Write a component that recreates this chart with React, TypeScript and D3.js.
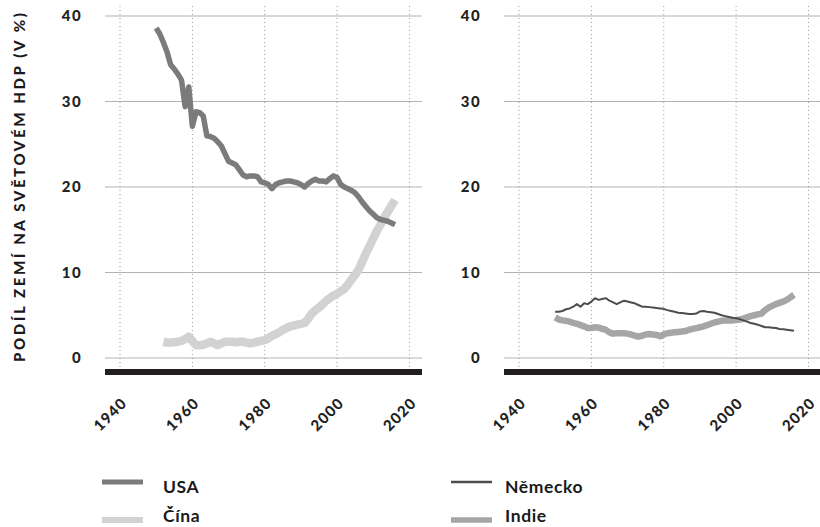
import React from "react";
import * as d3 from "d3";

// ---------------------- data (share of world GDP, %)
const usaStart = 1950;
const usaValues = [
  38.6, 37.9, 36.9, 35.8, 34.3, 33.8, 33.2, 32.5, 29.4, 31.7,
  27.1, 28.8, 28.7, 28.3, 26.0, 25.9, 25.7, 25.3, 24.8, 23.9,
  23.0, 22.8, 22.6, 22.0, 21.4, 21.2, 21.3, 21.3, 21.2, 20.6,
  20.5, 20.3, 19.8, 20.3, 20.5, 20.6, 20.7, 20.7, 20.6, 20.5,
  20.3, 20.0, 20.4, 20.7, 20.9, 20.7, 20.7, 20.6, 21.0, 21.3,
  21.1, 20.3, 20.0, 19.8, 19.6, 19.3, 18.8, 18.2, 17.7, 17.2,
  16.8, 16.4, 16.2, 16.1, 16.0, 15.8, 15.6,
];

const chinaStart = 1952;
const chinaValues = [
  1.9, 1.8, 1.8, 1.85, 1.9, 2.0, 2.2, 2.5,
  2.0, 1.5, 1.5, 1.55, 1.7, 1.9, 1.7, 1.5, 1.7, 1.9,
  1.9, 1.9, 1.85, 1.9, 1.9, 1.8, 1.7, 1.8, 1.9, 2.0,
  2.1, 2.3, 2.6, 2.8, 3.0, 3.3, 3.5, 3.7, 3.8, 3.9,
  4.0, 4.1, 4.6, 5.2, 5.6, 5.9, 6.3, 6.7, 7.0, 7.3,
  7.5, 7.8, 8.1, 8.6, 9.2, 9.7, 10.4, 11.3, 12.3, 13.1,
  14.0, 14.9, 15.6, 16.4, 17.1, 17.8, 18.5,
];

const germanyStart = 1950;
const germanyValues = [
  5.4, 5.4, 5.5, 5.7, 5.8, 6.0, 6.3, 6.0, 6.4, 6.3,
  6.6, 7.0, 6.8, 6.9, 7.0, 6.7, 6.5, 6.3, 6.5, 6.7,
  6.6, 6.5, 6.4, 6.2, 6.0, 6.0, 5.95, 5.9, 5.85, 5.8,
  5.75, 5.6, 5.5, 5.4, 5.3, 5.25, 5.2, 5.15, 5.15, 5.2,
  5.45, 5.5, 5.4, 5.35, 5.3, 5.15, 5.0, 4.9, 4.8, 4.7,
  4.65, 4.55, 4.4, 4.25, 4.1, 4.0, 3.9, 3.75, 3.6, 3.6,
  3.55, 3.5, 3.4, 3.35, 3.3, 3.25, 3.2,
];

const indiaStart = 1950;
const indiaValues = [
  4.75, 4.5, 4.4, 4.35, 4.25, 4.1, 4.0, 3.85, 3.7, 3.5,
  3.5, 3.6, 3.55, 3.4, 3.3, 3.0, 2.85, 2.9, 2.9, 2.9,
  2.85, 2.75, 2.6, 2.5, 2.6, 2.75, 2.8, 2.75, 2.7, 2.55,
  2.75, 2.9, 2.95, 3.0, 3.05, 3.1, 3.15, 3.3, 3.4, 3.5,
  3.6, 3.7, 3.85, 4.0, 4.15, 4.25, 4.35, 4.4, 4.4, 4.4,
  4.45, 4.5, 4.6, 4.75, 4.9, 5.0, 5.1, 5.2, 5.6, 5.9,
  6.1, 6.3, 6.45, 6.6, 6.8, 7.1, 7.4,
];

const yTicks = [0, 10, 20, 30, 40];
const xTicks = [1940, 1960, 1980, 2000, 2020];

const yTitle = "PODÍL ZEMÍ NA SVĚTOVÉM HDP (V %)";

type Pt = { year: number; value: number };
const toPoints = (start: number, values: number[]): Pt[] =>
  values.map((v, i) => ({ year: start + i, value: v }));

const panels = [
  {
    offset: 0,
    series: [
      { name: "Čína", data: toPoints(chinaStart, chinaValues), color: "#d2d2d2", width: 8.5 },
      { name: "USA", data: toPoints(usaStart, usaValues), color: "#7b7b7b", width: 5.5 },
    ],
  },
  {
    offset: 399,
    series: [
      { name: "Indie", data: toPoints(indiaStart, indiaValues), color: "#a6a6a6", width: 6.5 },
      { name: "Německo", data: toPoints(germanyStart, germanyValues), color: "#4d4d4d", width: 2 },
    ],
  },
];

const legends = [
  { x: 102, textX: 61, items: [
    { name: "USA", color: "#7b7b7b", width: 5 },
    { name: "Čína", color: "#d2d2d2", width: 6 },
  ] },
  { x: 451, textX: 54, items: [
    { name: "Německo", color: "#4d4d4d", width: 2.5 },
    { name: "Indie", color: "#a6a6a6", width: 5.5 },
  ] },
];

const W = 820;
const H = 527;

const font = "Lato, 'Open Sans', sans-serif";

export default function App() {
  const y = d3.scaleLinear().domain([0, 40]).range([358, 16]);

  return (
    <div style={{ position: "fixed", left: 0, top: 0 }}>
      <svg width={W} height={H} style={{ display: "block", background: "#fff" }}>
        {/* y title */}
        <text
          transform={`translate(25, 187.5) rotate(-90)`}
          textAnchor="middle"
          fontFamily={font}
          fontWeight={900}
          fontSize={15}
          textLength={349}
          lengthAdjust="spacing"
          fill="#1a1a1a"
        >
          {yTitle}
        </text>

        {panels.map((p, pi) => {
          const x = d3
            .scaleLinear()
            .domain([1940, 2020])
            .range([120 + p.offset, 409.5 + p.offset]);
          const left = 105 + p.offset;
          const right = 422 + p.offset;
          const line = d3
            .line<Pt>()
            .x(d => x(d.year))
            .y(d => y(d.value))
            .curve(d3.curveLinear);
          return (
            <g key={pi}>
              {/* horizontal grid */}
              {yTicks.map(t => (
                <g key={t}>
                  <line x1={left} x2={right} y1={y(t)} y2={y(t)} stroke="#b3b3b3" strokeWidth={1} />
                  <text
                    x={82 + p.offset}
                    y={y(t)}
                    dy="0.36em"
                    textAnchor="end"
                    fontFamily={font}
                    fontWeight={900}
                    fontSize={15}
                    letterSpacing={1.4}
                    fill="#222"
                  >
                    {t}
                  </text>
                </g>
              ))}
              {/* vertical dotted grid */}
              {xTicks.map(t => (
                <line
                  key={t}
                  x1={x(t)}
                  x2={x(t)}
                  y1={6}
                  y2={369}
                  stroke="#9a9a9a"
                  strokeWidth={1}
                  strokeDasharray="1,3"
                />
              ))}
              {/* base bar */}
              <rect x={left} y={369} width={right - left} height={6} fill="#231f20" />
              {/* x labels */}
              {xTicks.map(t => (
                <text
                  key={t}
                  transform={`translate(${x(t) + 8}, 404) rotate(-45)`}
                  textAnchor="end"
                  fontFamily={font}
                  fontWeight={900}
                  fontSize={15}
                  letterSpacing={1.2}
                  fill="#222"
                >
                  {t}
                </text>
              ))}
              {/* series */}
              {p.series.map(s => (
                <path
                  key={s.name}
                  d={line(s.data) || ""}
                  fill="none"
                  stroke={s.color}
                  strokeWidth={s.width}
                  strokeLinejoin="round"
                />
              ))}
            </g>
          );
        })}

        {/* legend */}
        {legends.map((lg, li) => (
          <g key={li}>
            {lg.items.map((it, i) => (
              <g key={it.name} transform={`translate(${lg.x}, ${482 + i * 38})`}>
                <line x1={0} x2={41} y1={0} y2={0} stroke={it.color} strokeWidth={it.width} />
                <text
                  x={lg.textX}
                  y={i === 0 ? 11 : 2}
                  fontFamily={font}
                  fontWeight={700}
                  fontSize={17.5}
                  letterSpacing={0.6}
                  fill="#1a1a1a"
                >
                  {it.name}
                </text>
              </g>
            ))}
          </g>
        ))}
      </svg>
    </div>
  );
}
